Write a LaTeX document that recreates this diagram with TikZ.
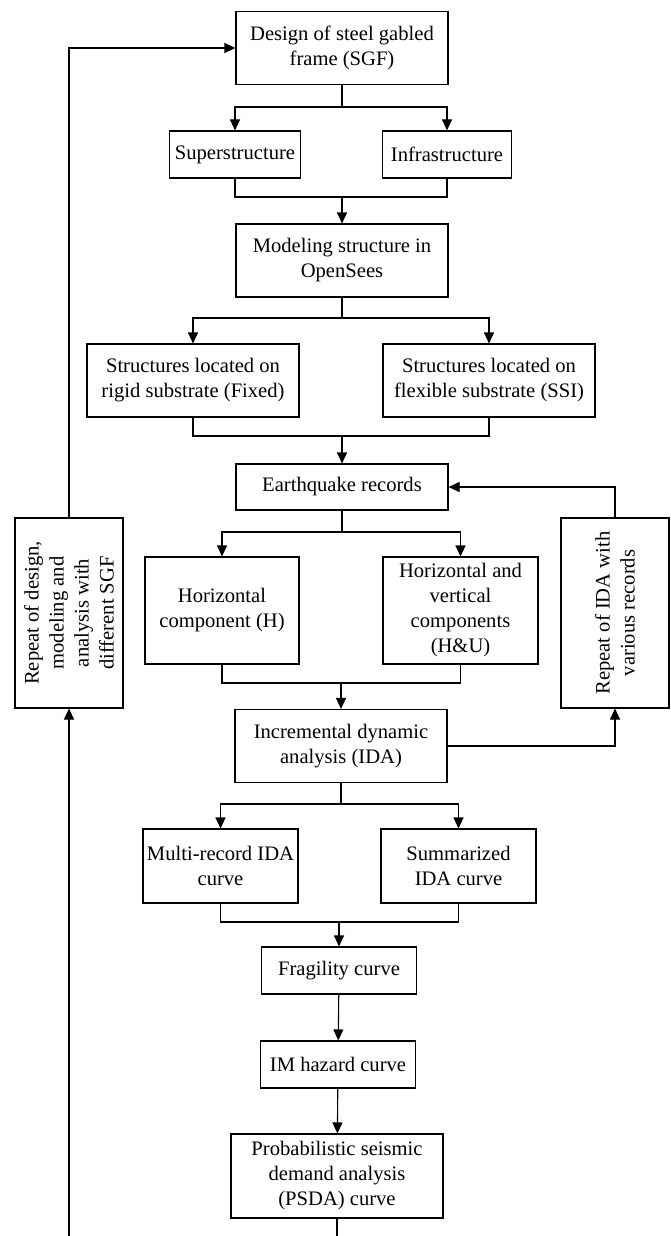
\documentclass[tikz,border=0pt]{standalone}
\usepackage{fontspec}
\setmainfont{Liberation Serif}
\usetikzlibrary{arrows.meta}

\begin{document}
\begin{tikzpicture}[x=1pt, y=-1pt, line width=1.1pt, >={Triangle[length=11pt, width=10pt]}, every node/.style={draw, rectangle, align=center, inner sep=0pt, font=\fontsize{20.6}{25}\selectfont}, wide/.style={minimum width=212pt, minimum height=73pt}, half/.style={minimum width=155pt, minimum height=74pt}, small/.style={minimum width=155pt, minimum height=47pt}, side/.style={rotate=90, minimum width=190pt, minimum height=108pt}]

\useasboundingbox (0,0) rectangle (670,1236);

% Nodes
\node[wide] (design) at (342,48) {Design of steel gabled\\frame (SGF)};
\node[minimum width=131pt, minimum height=47pt] (super) at (235,154.5) {Superstructure};
\node[minimum width=129pt, minimum height=47pt] (infra) at (447,154.5) {Infrastructure};
\node[wide] (model) at (342,260.5) {Modeling structure in\\OpenSees};
\node[wide] (rigid) at (193,380.5) {Structures located on\\rigid substrate (Fixed)};
\node[wide] (flex) at (489,380.5) {Structures located on\\flexible substrate (SSI)};
\node[minimum width=212pt, minimum height=46pt] (quake) at (342,487) {Earthquake records};
\node[minimum width=154pt, minimum height=107pt] (horiz) at (222,610.5) {Horizontal\\component (H)};
\node[minimum width=155pt, minimum height=107pt] (hu) at (460.5,610.5) {Horizontal and\\vertical\\components\\(H\&U)};
\node[side] (repdesign) at (69,613) {Repeat of design,\\modeling and\\analysis with\\different SGF};
\node[side] (repida) at (615,613) {Repeat of IDA with\\various records};
\node[wide] (ida) at (341,746) {Incremental dynamic\\analysis (IDA)};
\node[half] (multi) at (220.5,866) {Multi-record IDA\\curve};
\node[half] (summ) at (458.5,866) {Summarized\\IDA curve};
\node[small] (frag) at (339,970.5) {Fragility curve};
\node[small] (imh) at (338,1064.5) {IM hazard curve};
\node[minimum width=212pt, minimum height=84pt] (psda) at (337,1176) {Probabilistic seismic\\demand analysis\\(PSDA) curve};

% Joints
\coordinate (b1) at (342,107);
\coordinate (m1) at (342,197);
\coordinate (b2) at (342,318);
\coordinate (m2) at (342,436);
\coordinate (b3) at (342,532);
\coordinate (m3) at (341,683);
\coordinate (b4) at (341,804);
\coordinate (m4) at (339,922);
\coordinate (pend) at (337,1236);
\coordinate (lstart) at (69,1236);

% Arrows
\draw (design) -- (b1);
\draw[->] (b1) -| (super);
\draw[->] (b1) -| (infra);
\draw (super) |- (m1) -| (infra);
\draw[->] (m1) -- (model);
\draw (model) -- (b2);
\draw[->] (b2) -| (rigid);
\draw[->] (b2) -| (flex);
\draw (rigid) |- (m2) -| (flex);
\draw[->] (m2) -- (quake);
\draw (quake) -- (b3);
\draw[->] (b3) -| (horiz);
\draw[->] (b3) -| (hu);
\draw (horiz) |- (m3) -| (hu);
\draw[->] (m3) -- (ida);
\draw (ida) -- (b4);
\draw[->] (b4) -| (multi);
\draw[->] (b4) -| (summ);
\draw (multi) |- (m4) -| (summ);
\draw[->] (m4) -- (frag);
\draw[->] (frag) -- (imh);
\draw[->] (imh) -- (psda);
\draw (psda) -- (pend);
\draw[->] (ida) -| (repida);
\draw[->] (repida) |- (quake);
\draw[->] (lstart) -- (repdesign);
\draw[->] (repdesign) |- (design);

\end{tikzpicture}
\end{document}
